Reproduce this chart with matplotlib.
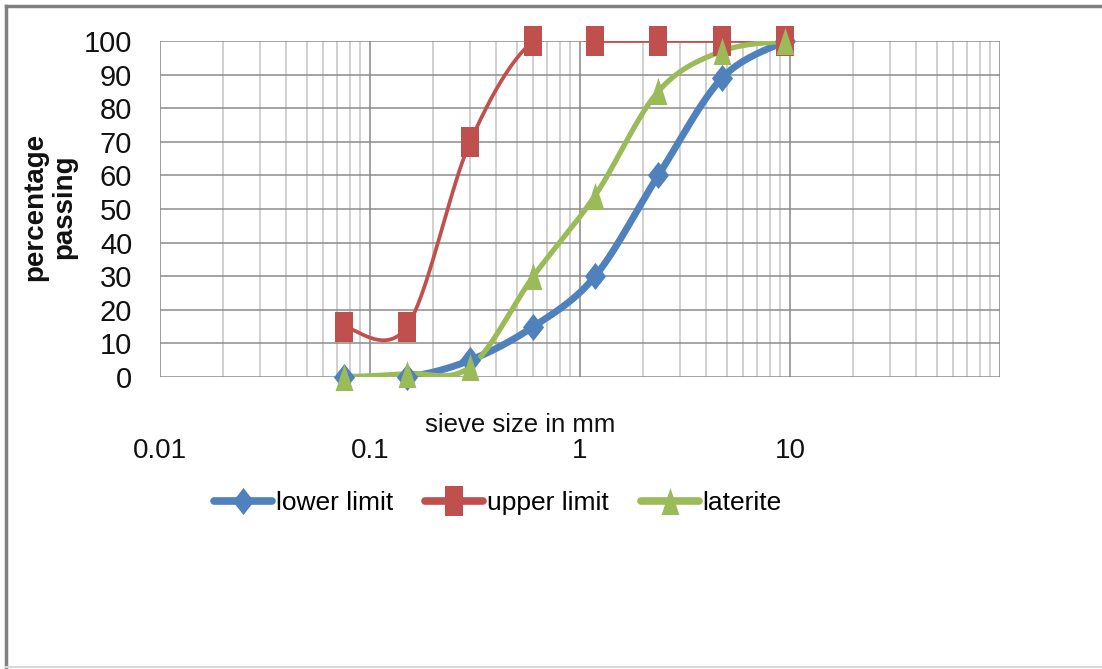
import numpy as np
import matplotlib
matplotlib.use("Agg")
import matplotlib.pyplot as plt
from matplotlib.path import Path
from matplotlib.lines import Line2D

# sieve sizes (mm) and percentage passing
sieve_mm = [0.075, 0.15, 0.3, 0.6, 1.18, 2.36, 4.75, 9.5]
lower_limit = [0, 0, 5, 15, 30, 60, 89, 100]
upper_limit = [15, 15, 70, 100, 100, 100, 100, 100]
laterite = [0, 1, 3, 30, 54, 85, 97, 100]

x_ticks = [0.01, 0.1, 1, 10]
x_tick_labels = ["0.01", "0.1", "1", "10"]
y_ticks = list(range(0, 101, 10))

plt.rcParams["font.family"] = ["Liberation Sans", "DejaVu Sans"]

# tall markers (picture is stretched vertically)
diamond = Path([(0, 0.5), (0.39, 0), (0, -0.5), (-0.39, 0), (0, 0.5)],
               [Path.MOVETO, Path.LINETO, Path.LINETO, Path.LINETO, Path.CLOSEPOLY])
square = Path([(-0.31, -0.5), (0.31, -0.5), (0.31, 0.5), (-0.31, 0.5), (-0.31, -0.5)],
              [Path.MOVETO, Path.LINETO, Path.LINETO, Path.LINETO, Path.CLOSEPOLY])
triangle = Path([(0, 0.5), (0.33, -0.5), (-0.33, -0.5), (0, 0.5)],
                [Path.MOVETO, Path.LINETO, Path.LINETO, Path.CLOSEPOLY])

series = [
    ("lower limit", lower_limit, "#4F81BD", diamond, 19.5, 5.0),
    ("upper limit", upper_limit, "#C0504D", square, 21, 2.7),
    ("laterite", laterite, "#9BBB59", triangle, 19.5, 3.8),
]

W_PX, H_PX = 840.0, 336.0


def smooth(xs, ys, n=40):
    # Excel-style smoothed line: cubic bezier through points, built in screen space
    px = (np.log10(xs) + 2) / 4 * W_PX
    py = np.asarray(ys, float) / 100 * H_PX
    pts = np.column_stack([px, py])
    out = []
    t = np.linspace(0, 1, n)[:, None]
    for i in range(len(pts) - 1):
        p0 = pts[i - 1] if i > 0 else pts[i]
        p1, p2 = pts[i], pts[i + 1]
        p3 = pts[i + 2] if i + 2 < len(pts) else pts[i + 1]
        c1 = p1 + (p2 - p0) / 6
        c2 = p2 - (p3 - p1) / 6
        b = (1 - t) ** 3 * p1 + 3 * (1 - t) ** 2 * t * c1 + 3 * (1 - t) * t ** 2 * c2 + t ** 3 * p2
        out.append(b)
    b = np.vstack(out)
    return 10 ** (b[:, 0] / W_PX * 4 - 2), b[:, 1] / H_PX * 100


fig = plt.figure(figsize=(11.02, 6.69), dpi=100)
ax = fig.add_axes([160 / 1102, 1 - 377 / 669, 840 / 1102, 336 / 669])

ax.set_xscale("log")
ax.set_xlim(0.01, 100)
ax.set_ylim(0, 100)

handles = []
for name, vals, color, mk, ms, lw in series:
    sx, sy = smooth(sieve_mm, vals)
    ax.plot(sx, sy, color=color, lw=lw, solid_capstyle="round", zorder=3)
    ax.plot(sieve_mm, vals, ls="none", marker=mk, ms=ms, color=color,
            mec=color, mew=0, clip_on=False, zorder=4)
    handles.append(Line2D([], [], color=color, lw=5.5, marker=mk, ms=ms,
                          mec=color, mew=0, solid_capstyle="round"))

# grid
ax.set_xticks(x_ticks)
ax.set_xticklabels(x_tick_labels)
ax.set_yticks(y_ticks)
ax.xaxis.set_minor_locator(matplotlib.ticker.LogLocator(base=10, subs=np.arange(2, 10)))
ax.xaxis.set_minor_formatter(matplotlib.ticker.NullFormatter())
ax.grid(True, which="major", axis="x", color="#858585", lw=1.1)
ax.grid(True, which="minor", axis="x", color="#c4c4c4", lw=1.1)
ax.grid(True, which="major", axis="y", color="#8c8c8c", lw=1.1)
ax.axvline(100, color="#858585", lw=1.1)
ax.set_axisbelow(True)
for s in ax.spines.values():
    s.set_visible(False)

ax.tick_params(which="both", length=0)
ax.tick_params(axis="y", pad=20, labelsize=21, labelcolor="#111111")
ax.tick_params(axis="x", pad=44, labelsize=20, labelcolor="#111111")

ax.set_xlabel("sieve size in mm", fontsize=18.5, color="#111111")
ax.xaxis.set_label_coords((520 - 160) / 840, (377 - 425) / 336)
ax.xaxis.label.set_va("center")

ax.set_ylabel("percentage\npassing", fontsize=20, fontweight="bold",
              color="#111111", linespacing=1.15)
ax.yaxis.set_label_coords((50 - 160) / 840, (377 - 207) / 336)
ax.yaxis.label.set_va("center")

fig.legend(handles, [s[0] for s in series], loc="center",
           bbox_to_anchor=(498 / 1102, 1 - 503 / 669), ncol=3, frameon=False,
           prop={"size": 19}, handlelength=2.2,
           handletextpad=0.15, columnspacing=1.2)

# chart area border
fig.add_artist(Line2D([6 / 1102, 1], [1 - 6 / 669, 1 - 6 / 669], color="#808080", lw=2.5))
fig.add_artist(Line2D([6 / 1102, 6 / 1102], [1 - 6 / 669, 0], color="#808080", lw=2.5))
fig.add_artist(Line2D([6 / 1102, 1], [2 / 669, 2 / 669], color="#d9d9d9", lw=1.5))

fig.savefig("out.png", dpi=100)
